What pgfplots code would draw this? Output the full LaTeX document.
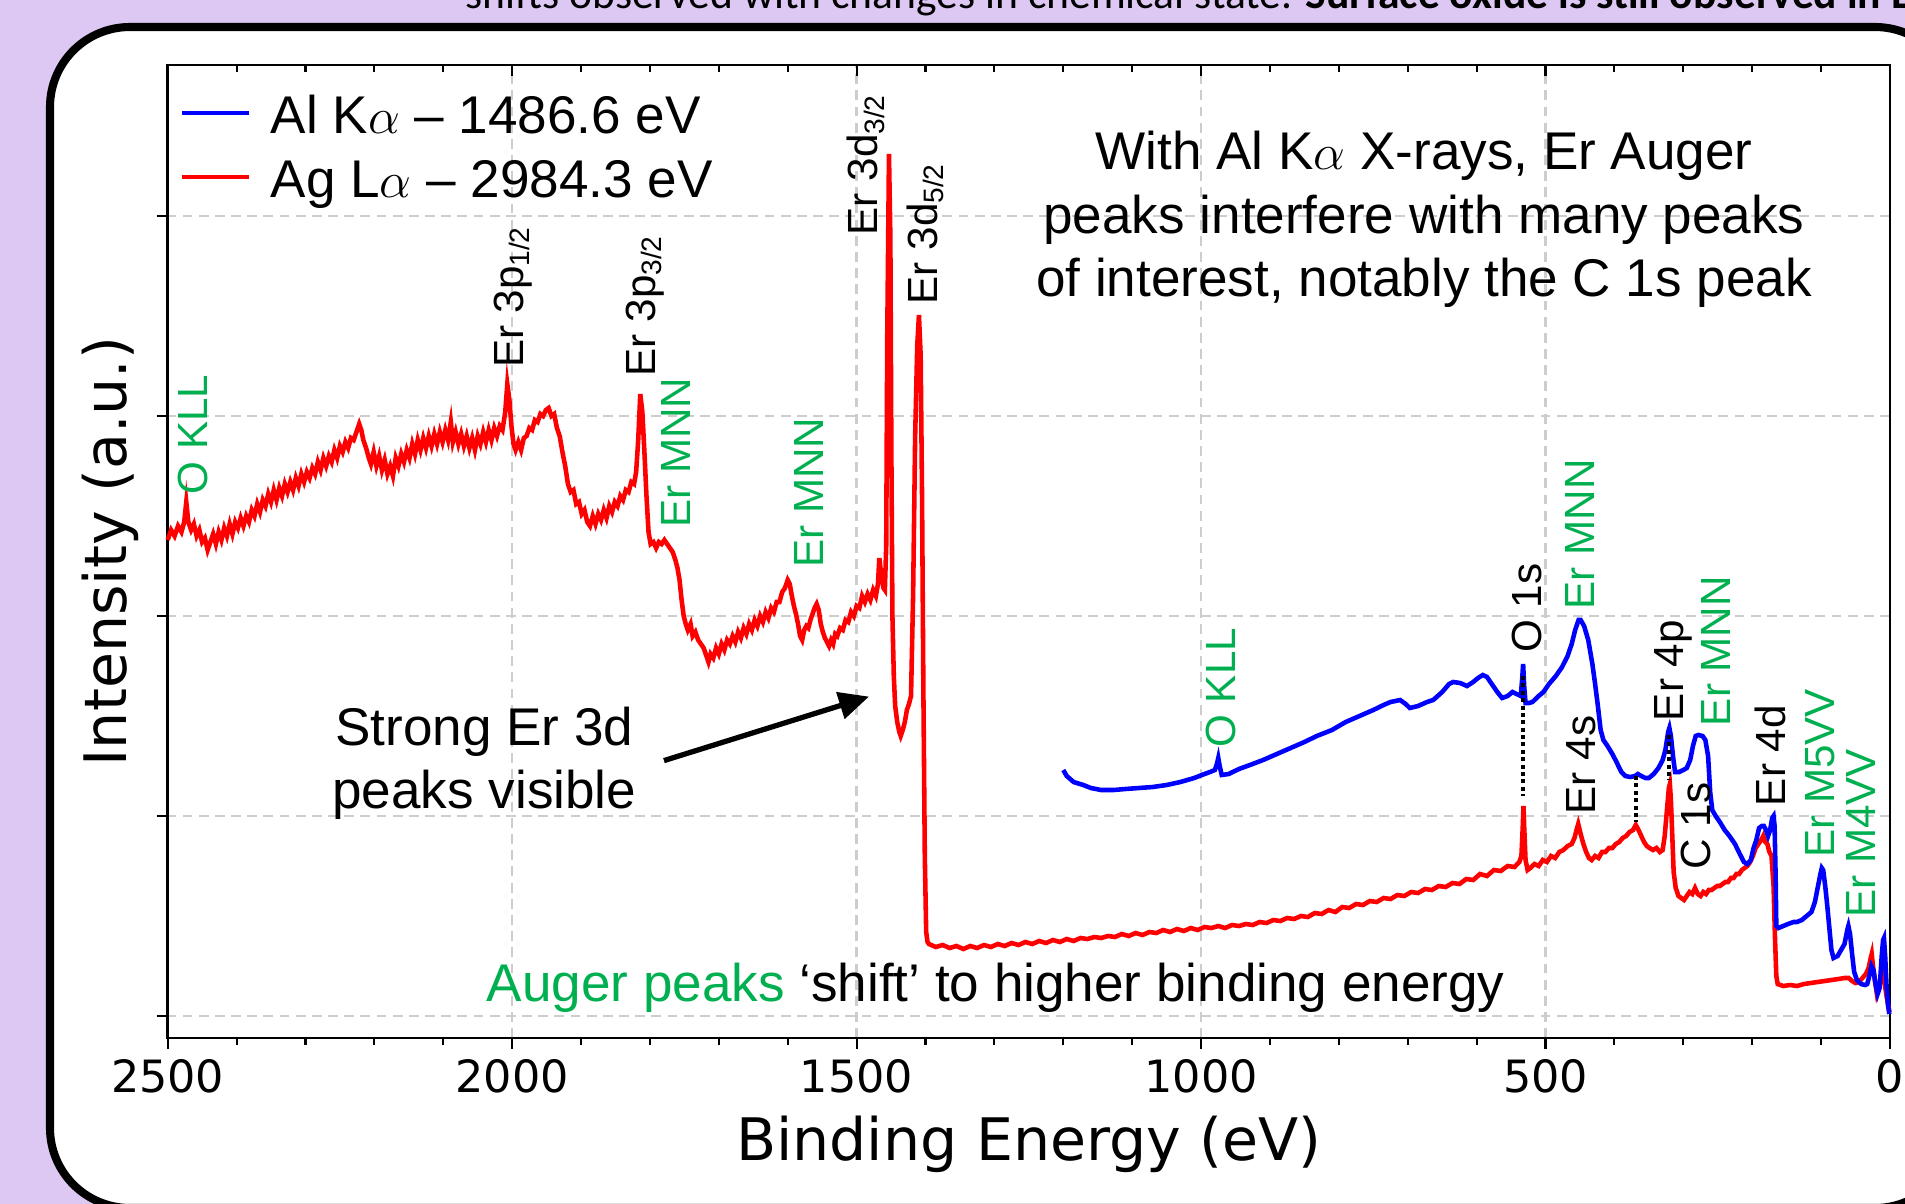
\documentclass[border=0pt]{standalone}
\usepackage{pgfplots}
\pgfplotsset{compat=1.18}
\usepackage{fontspec}
\setmainfont{Liberation Sans}
\newfontfamily\dejavu{DejaVu Sans}
\newfontfamily\carlito{Carlito}
\usetikzlibrary{arrows.meta}
\definecolor{bgpurple}{RGB}{221,200,243}
\definecolor{augergreen}{RGB}{0,176,80}
\definecolor{gridgray}{RGB}{205,205,205}
\newcommand{\lblfont}{\fontsize{12.0}{14}\selectfont}
\newcommand{\annfont}{\fontsize{15.1}{18.2}\selectfont}
\begin{document}
\begin{tikzpicture}
\useasboundingbox (0,0) rectangle (19.05cm,-12.04cm);
\fill[bgpurple] (0,0) rectangle (19.05cm,-12.04cm);
\node[anchor=base west, inner sep=0pt, font=\carlito\fontsize{12.4}{14}\selectfont] at (4.65cm,-0.09cm) {shifts observed with changes in chemical state. \textbf{Surface oxide is still observed in Er}};
\draw[line width=2.3pt, fill=white, rounded corners=0.8cm] (0.50cm,-0.27cm) rectangle (19.55cm,-12.08cm);

\begin{axis}[
  at={(1.677cm,-10.38cm)}, anchor=south west,
  scale only axis, width=17.223cm, height=9.73cm,
  xmin=0, xmax=2500, x dir=reverse,
  ymin=-0.11, ymax=4.755,
  xtick={0,500,1000,1500,2000,2500},
  xticklabels={0,500,1000,1500,2000,2500},
  minor x tick num=4,
  ytick={0,1,2,3,4}, yticklabels={},
  xtick pos=bottom, ytick pos=left,
  tick align=outside,
  major tick length=0.11cm, minor tick length=0.07cm,
  tick style={black, line width=0.6pt},
  grid=major,
  major grid style={gridgray, line width=0.7pt, dash pattern=on 2.8pt off 1.8pt},
  axis line style={line width=0.7pt},
  xticklabel style={font=\dejavu\fontsize{12.66}{15}\selectfont, inner sep=0pt, anchor=north, yshift=-0.10cm},
  xlabel={Binding Energy (eV)}, ylabel={Intensity (a.u.)},
  label style={font=\dejavu\fontsize{16.67}{20}\selectfont},
  xlabel style={at={(axis description cs:0.5,-0.1254)}, anchor=base},
  ylabel style={at={(axis description cs:-0.0332,0.5)}, anchor=center},
  clip=false,
]
% Ag L alpha (red)
\addplot[red, line width=1.3pt] coordinates {
(2500,2.38)(2495,2.43)(2490,2.40)(2485,2.45)(2480,2.42)(2476,2.47)(2473,2.57)(2470,2.47)(2466,2.43)(2462,2.46)
(2458,2.40)(2454,2.43)(2450,2.37)(2446,2.39)(2442,2.33)(2438,2.37)(2434,2.41)(2430,2.36)(2426,2.42)(2422,2.38)
(2418,2.44)(2414,2.40)(2410,2.46)(2406,2.41)(2402,2.47)(2398,2.44)(2394,2.49)(2390,2.45)(2386,2.50)(2382,2.47)
(2378,2.53)(2374,2.50)(2370,2.56)(2366,2.52)(2362,2.58)(2358,2.55)(2354,2.61)(2350,2.57)(2346,2.63)(2342,2.58)
(2338,2.64)(2334,2.60)(2330,2.66)(2326,2.62)(2322,2.67)(2318,2.63)(2314,2.69)(2310,2.65)(2306,2.71)(2302,2.67)
(2298,2.72)(2294,2.69)(2290,2.74)(2286,2.71)(2282,2.77)(2278,2.73)(2274,2.79)(2270,2.75)(2266,2.80)(2262,2.77)
(2258,2.83)(2254,2.79)(2250,2.85)(2246,2.82)(2242,2.87)(2238,2.84)(2234,2.89)(2230,2.88)(2226,2.92)(2222,2.96)
(2219,2.93)(2216,2.88)(2212,2.84)(2208,2.79)(2205,2.76)(2201,2.82)(2197,2.75)(2193,2.80)(2189,2.73)(2185,2.78)
(2181,2.71)(2177,2.75)(2173,2.70)(2169,2.79)(2165,2.75)(2161,2.81)(2157,2.77)(2153,2.83)(2149,2.79)(2145,2.86)
(2141,2.81)(2137,2.88)(2133,2.83)(2129,2.89)(2125,2.84)(2121,2.90)(2117,2.85)(2113,2.91)(2109,2.86)(2105,2.92)
(2101,2.87)(2097,2.93)(2093,2.88)(2089,2.97)(2086,2.87)(2082,2.92)(2078,2.86)(2074,2.91)(2070,2.85)(2066,2.90)
(2062,2.84)(2058,2.89)(2054,2.83)(2050,2.90)(2046,2.86)(2042,2.92)(2038,2.87)(2034,2.93)(2030,2.88)(2026,2.94)
(2022,2.90)(2018,2.95)(2014,2.93)(2010,3.02)(2007,3.16)(2004,3.08)(2001,2.95)(1998,2.86)(1995,2.83)(1991,2.87)
(1987,2.83)(1983,2.89)(1979,2.90)(1975,2.94)(1971,2.93)(1967,2.98)(1963,2.97)(1959,3.01)(1955,3.00)(1951,3.03)
(1947,3.04)(1943,3.00)(1939,3.01)(1935,2.94)(1931,2.90)(1927,2.82)(1923,2.75)(1919,2.66)(1915,2.62)(1911,2.63)
(1907,2.56)(1903,2.57)(1899,2.51)(1895,2.53)(1891,2.47)(1887,2.45)(1883,2.50)(1879,2.46)(1875,2.51)(1871,2.48)
(1867,2.53)(1863,2.49)(1859,2.55)(1855,2.52)(1851,2.57)(1847,2.55)(1843,2.60)(1839,2.58)(1835,2.63)(1831,2.62)
(1827,2.67)(1823,2.66)(1820,2.72)(1817,2.88)(1814,3.11)(1811,3.02)(1808,2.82)(1805,2.60)(1802,2.42)(1799,2.36)
(1795,2.37)(1791,2.34)(1787,2.37)(1783,2.36)(1779,2.38)(1775,2.36)(1771,2.34)(1767,2.32)(1763,2.28)(1760,2.24)
(1757,2.18)(1754,2.08)(1751,2.00)(1748,1.96)(1745,1.93)(1741,1.96)(1738,1.90)(1734,1.92)(1730,1.88)(1726,1.86)
(1722,1.84)(1718,1.80)(1715,1.77)(1712,1.81)(1708,1.79)(1704,1.84)(1700,1.81)(1696,1.86)(1692,1.83)(1688,1.88)
(1684,1.86)(1680,1.90)(1676,1.87)(1672,1.92)(1668,1.89)(1664,1.94)(1660,1.91)(1656,1.96)(1652,1.93)(1648,1.98)
(1644,1.95)(1640,2.00)(1636,1.97)(1632,2.02)(1628,1.99)(1624,2.04)(1620,2.02)(1616,2.07)(1612,2.07)(1608,2.12)
(1604,2.14)(1600,2.18)(1597,2.16)(1594,2.10)(1591,2.05)(1588,2.01)(1585,1.96)(1582,1.90)(1579,1.88)(1576,1.93)
(1573,1.95)(1570,1.94)(1567,1.98)(1564,2.01)(1561,2.04)(1558,2.06)(1555,2.03)(1552,1.96)(1549,1.92)(1546,1.89)
(1543,1.87)(1540,1.85)(1537,1.88)(1534,1.86)(1531,1.91)(1528,1.90)(1524,1.94)(1520,1.93)(1516,1.98)(1512,1.97)
(1508,2.02)(1504,2.00)(1500,2.05)(1496,2.04)(1492,2.10)(1488,2.07)(1484,2.11)(1480,2.08)(1476,2.13)(1472,2.10)
(1469,2.16)(1467,2.29)(1464,2.20)(1461,2.14)(1459,2.13)(1457,2.35)(1455.5,3.40)(1453,4.31)(1451,3.90)(1449.5,2.80)
(1448,2.00)(1446,1.70)(1444,1.55)(1441,1.47)(1438,1.42)(1436,1.40)(1433,1.43)(1430,1.47)(1427,1.53)(1424,1.56)
(1421,1.60)(1418,2.10)(1415,2.90)(1412,3.35)(1409.5,3.505)(1407,3.30)(1405,2.60)(1403,1.60)(1401,0.80)(1399,0.42)
(1397,0.37)(1395,0.36)(1385,0.345)(1375,0.355)(1365,0.34)(1355,0.35)(1345,0.335)(1335,0.35)(1325,0.34)(1315,0.355)
(1305,0.345)(1295,0.36)(1285,0.35)(1275,0.365)(1265,0.355)(1255,0.37)(1245,0.36)(1235,0.375)(1225,0.365)(1215,0.38)
(1205,0.37)(1195,0.385)(1185,0.375)(1175,0.39)(1165,0.385)(1155,0.395)(1145,0.39)(1135,0.40)(1125,0.395)(1115,0.41)
(1105,0.40)(1095,0.415)(1085,0.405)(1075,0.42)(1065,0.415)(1055,0.43)(1045,0.42)(1035,0.435)(1025,0.425)(1015,0.44)
(1005,0.43)(995,0.445)(985,0.44)(975,0.45)(965,0.44)(955,0.455)(945,0.45)(935,0.46)(925,0.455)(915,0.47)
(905,0.465)(895,0.48)(885,0.475)(875,0.49)(865,0.485)(855,0.50)(845,0.495)(835,0.515)(825,0.51)(815,0.53)
(805,0.52)(795,0.545)(785,0.54)(775,0.56)(765,0.555)(755,0.575)(745,0.57)(735,0.59)(725,0.585)(715,0.605)
(705,0.60)(695,0.62)(685,0.615)(675,0.635)(665,0.63)(655,0.65)(645,0.645)(635,0.665)(625,0.66)(615,0.685)
(605,0.68)(595,0.71)(585,0.70)(575,0.73)(565,0.725)(555,0.75)(545,0.745)(538,0.77)(535,0.80)(533,0.95)
(532,1.05)(531,0.95)(529,0.78)(526,0.73)(522,0.74)(516,0.76)(510,0.75)(504,0.78)(498,0.77)(492,0.80)
(486,0.79)(480,0.82)(474,0.83)(468,0.85)(462,0.86)(458,0.89)(455,0.93)(452.5,0.96)(449,0.91)(445,0.86)
(441,0.82)(437,0.79)(433,0.78)(428,0.80)(423,0.79)(418,0.82)(413,0.82)(408,0.84)(403,0.84)(398,0.86)
(393,0.87)(388,0.89)(383,0.90)(378,0.92)(373,0.93)(369,0.955)(365,0.93)(361,0.90)(357,0.87)(353,0.85)
(349,0.84)(344,0.83)(339,0.84)(334,0.82)(330,0.83)(327,0.90)(324,1.02)(321,1.14)(319.5,1.16)(318,1.08)
(316,0.90)(314,0.72)(311,0.64)(307,0.60)(303,0.59)(299,0.58)(295,0.60)(291,0.62)(287,0.61)(283,0.64)
(279,0.61)(275,0.60)(271,0.62)(267,0.61)(263,0.63)(259,0.63)(255,0.64)(251,0.65)(247,0.65)(243,0.66)
(239,0.67)(235,0.67)(231,0.69)(227,0.69)(223,0.71)(219,0.71)(215,0.73)(211,0.74)(207,0.75)(203,0.77)
(199,0.80)(195,0.84)(191,0.86)(187,0.88)(184,0.90)(181,0.87)(178,0.86)(175,0.82)(172,0.80)(169,0.65)
(167,0.40)(165,0.20)(163,0.16)(155,0.15)(145,0.155)(135,0.15)(125,0.16)(115,0.165)(105,0.17)(95,0.175)
(85,0.18)(75,0.185)(66,0.19)(60,0.19)(55,0.175)(50,0.165)(45,0.17)(40,0.19)(35,0.21)(31,0.24)
(28,0.29)(26.5,0.31)(25,0.26)(22,0.18)(19,0.11)(16,0.14)(13,0.19)(10,0.21)(8,0.17)(5,0.10)(2,0.04)(0.5,0.02)
};
% Al K alpha (blue)
\addplot[blue, line width=1.3pt] coordinates {
(1200,1.23)(1195,1.20)(1185,1.17)(1171,1.155)(1160,1.14)(1145,1.13)(1127,1.13)(1110,1.135)(1090,1.14)(1070,1.145)
(1050,1.155)(1030,1.17)(1010,1.19)(995,1.21)(987,1.22)(980,1.23)(977,1.26)(975,1.29)(973,1.25)(970,1.205)
(960,1.21)(945,1.235)(929,1.255)(910,1.28)(890,1.31)(870,1.34)(850,1.37)(832,1.40)(810,1.43)(790,1.47)
(770,1.50)(750,1.53)(735,1.555)(725,1.57)(711,1.58)(703,1.56)(697,1.54)(685,1.55)(672,1.57)(663,1.58)
(650,1.62)(640,1.66)(634,1.67)(624,1.665)(614,1.65)(605,1.67)(598,1.69)(591,1.705)(585,1.695)(578,1.66)
(570,1.62)(563,1.59)(555,1.60)(548,1.62)(542,1.61)(536,1.60)(534,1.68)(532.5,1.76)(531,1.65)(529,1.565)
(524,1.565)(519,1.57)(510,1.60)(503,1.62)(495,1.66)(485,1.70)(476,1.745)(468,1.80)(462,1.86)(457,1.93)
(452,1.98)(449,1.98)(444,1.95)(438,1.88)(432,1.76)(428,1.66)(424,1.55)(420,1.43)(416,1.38)(410,1.35)
(403,1.31)(397,1.27)(390,1.22)(384,1.20)(377,1.195)(370,1.20)(366,1.21)(361,1.20)(355,1.19)(350,1.19)
(343,1.21)(336,1.24)(330,1.28)(326,1.33)(322,1.42)(320.2,1.44)(318,1.40)(315,1.30)(312,1.22)(306,1.22)
(300,1.23)(295,1.24)(290,1.28)(286,1.35)(282,1.40)(278,1.405)(272,1.40)(268,1.38)(264,1.30)(261,1.12)
(258,1.03)(253,1.00)(247,0.97)(240,0.93)(233,0.90)(225,0.86)(218,0.81)(212,0.77)(207,0.76)(202,0.78)
(198,0.84)(194,0.88)(190,0.94)(186,0.95)(183,0.95)(180,0.93)(177,0.90)(174,0.93)(171,0.99)(169,1.00)
(167.5,0.95)(166,0.70)(165,0.45)(162,0.44)(155,0.45)(148,0.46)(140,0.47)(135,0.47)(128,0.48)(121,0.50)
(114,0.52)(109,0.57)(105,0.64)(101,0.71)(99,0.74)(97,0.73)(94,0.65)(91,0.55)(88,0.44)(85,0.33)
(82,0.29)(76,0.30)(71,0.33)(66,0.36)(62,0.43)(60.4,0.45)(58,0.41)(55,0.31)(52,0.22)(48,0.18)
(42,0.16)(36,0.155)(33,0.16)(30,0.20)(27,0.25)(24,0.23)(21,0.16)(18,0.11)(15,0.14)(12,0.30)
(10,0.38)(8.7,0.39)(7,0.30)(5,0.15)(3,0.06)(1,0.01)
};
% dotted connectors
\draw[black, line width=1.15pt, dash pattern=on 1.15pt off 0.95pt] (axis cs:532.3,1.70) -- (axis cs:532.3,1.10);
\draw[black, line width=1.15pt, dash pattern=on 1.15pt off 0.95pt] (axis cs:368.6,1.20) -- (axis cs:368.6,0.97);
\draw[black, line width=1.15pt, dash pattern=on 1.15pt off 0.95pt] (axis cs:320.2,1.405) -- (axis cs:320.2,1.18);
% legend
\draw[blue, line width=1.4pt] (axis cs:2479,4.515) -- (axis cs:2381.7,4.515);
\draw[red, line width=1.4pt] (axis cs:2479,4.195) -- (axis cs:2381.7,4.195);
\node[anchor=base west, inner sep=0pt, font=\annfont] at (axis cs:2351.4,4.412) {Al K$\alpha$ – 1486.6 eV};
\node[anchor=base west, inner sep=0pt, font=\annfont] at (axis cs:2351.4,4.092) {Ag L$\alpha$ – 2984.3 eV};
% peak labels
\begin{scope}[every node/.style={rotate=90, anchor=base west, inner sep=0pt, font=\lblfont}]
\node[text=augergreen] at (axis cs:2441.6,2.605) {O KLL};
\node at (axis cs:1983.8,3.24) {Er 3p\textsubscript{1/2}};
\node at (axis cs:1792.6,3.195) {Er 3p\textsubscript{3/2}};
\node[text=augergreen] at (axis cs:1741.8,2.4385) {Er MNN};
\node[text=augergreen] at (axis cs:1548.3,2.2385) {Er MNN};
\node at (axis cs:1469,3.90) {Er 3d\textsubscript{3/2}};
\node at (axis cs:1382.9,3.555) {Er 3d\textsubscript{5/2}};
\node[text=augergreen] at (axis cs:950.7,1.3385) {O KLL};
\node at (axis cs:505.5,1.8135) {O 1s};
\node[text=augergreen] at (axis cs:429.2,2.03) {Er MNN};
\node at (axis cs:428.1,1.005) {Er 4s};
\node at (axis cs:300,1.4715) {Er 4p};
\node[text=augergreen] at (axis cs:232.2,1.4465) {Er MNN};
\node at (axis cs:261.2,0.73) {C 1s};
\node at (axis cs:152.3,1.0465) {Er 4d};
\node[text=augergreen] at (axis cs:81.2,0.7885) {Er M5VV};
\node[text=augergreen] at (axis cs:21.7,0.4885) {Er M4VV};
\end{scope}
% annotations
\node[anchor=base, inner sep=0pt, font=\annfont] at (axis cs:676.4,4.233) {With Al K$\alpha$ X-rays, Er Auger};
\node[anchor=base, inner sep=0pt, font=\annfont] at (axis cs:676.4,3.912) {peaks interfere with many peaks};
\node[anchor=base, inner sep=0pt, font=\annfont] at (axis cs:676.4,3.596) {of interest, notably the C 1s peak};
\node[anchor=base, inner sep=0pt, font=\annfont] at (axis cs:2040.4,1.355) {Strong Er 3d};
\node[anchor=base, inner sep=0pt, font=\annfont] at (axis cs:2040.4,1.0385) {peaks visible};
\draw[line width=1.5pt, -{Triangle[length=0.30cm, width=0.27cm]}] (axis cs:1779.6,1.277) -- (axis cs:1482,1.597);
\node[anchor=base west, inner sep=0pt, font=\annfont] at (axis cs:2037.9,0.0715) {\textcolor{augergreen}{Auger peaks} ‘shift’ to higher binding energy};
\end{axis}

\begin{axis}[
  at={(1.677cm,-10.38cm)}, anchor=south west,
  scale only axis, width=17.223cm, height=9.73cm,
  xmin=0, xmax=2500, x dir=reverse,
  ymin=-0.11, ymax=4.755,
  axis x line*=top, axis y line=none,
  tick align=inside,
  xtick={0,500,1000,1500,2000,2500}, xticklabels={},
  minor x tick num=4,
  major tick length=0.11cm, minor tick length=0.07cm,
  tick style={black, line width=0.6pt},
  axis line style={line width=0.7pt},
]
\addplot[draw=none] coordinates {(1000,1)};
\end{axis}
\end{tikzpicture}
\end{document}
